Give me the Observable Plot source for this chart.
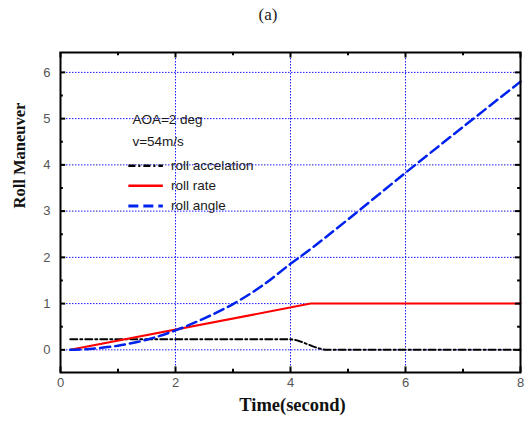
<!DOCTYPE html>
<html>
<head>
<meta charset="utf-8">
<script src="https://cdn.jsdelivr.net/npm/d3@7"></script>
<script src="https://cdn.jsdelivr.net/npm/@observablehq/plot@0.6"></script>
<style>
  body { margin: 0; background: #fff; width: 525px; height: 426px; overflow: hidden; }
  #title { position: relative; height: 30px; font-family: "Liberation Serif", "DejaVu Serif", serif; font-size: 17px; color: #222; }
  #title span { position: absolute; left: 268px; top: 5px; transform: translateX(-50%); }
</style>
</head>
<body>
<div id="title"><span>(a)</span></div>
<div id="chart"></div>
<script>
// Data
const accelTime  = [0.17, 4.0, 4.1, 4.2, 4.3, 4.4, 4.5, 4.6, 8];
const accelValue = [0.23, 0.23, 0.21, 0.17, 0.12, 0.07, 0.03, 0.0, 0.0];

const rateTime  = [0.17, 4.35, 8];
const rateValue = [0.0, 1.0, 1.0];

const angleTime  = [0.17, 0.5, 1, 1.5, 2, 2.5, 3, 3.5, 4, 4.35, 5, 6, 7, 8];
const angleValue = [0.0, 0.02, 0.09, 0.22, 0.42, 0.68, 0.99, 1.38, 1.86, 2.18, 2.82, 3.83, 4.82, 5.8];

const xTicks = [0, 2, 4, 6, 8];
const xMinor = [1, 3, 5, 7];
const yTicks = [0, 1, 2, 3, 4, 5, 6];
const yMinor = [0.5, 1.5, 2.5, 3.5, 4.5, 5.5];
const xGrid = [2, 4, 6];
const yGrid = [0, 1, 2, 3, 4, 5, 6];

const seriesNames = ["roll accelation", "roll rate", "roll angle"];
const annotations = ["AOA=2 deg", "v=54m/s"];

const toRows = (t, v) => t.map((x, i) => ({x, y: v[i]}));
const accel = toRows(accelTime, accelValue);
const rate = toRows(rateTime, rateValue);
const angle = toRows(angleTime, angleValue);

const xDom = [0, 8], yDom = [-0.49, 6.43];
const colors = ["#000", "#ff0000", "#0022ee"];
const dashes = ["7,3,2,3", null, "10,5"];
const widths = [2, 2, 2.5];
const legendY = [3.98, 3.55, 3.11];
const legendRows = seriesNames.map((name, i) => ({name, y: legendY[i], i}));

const serif = "'Liberation Serif', 'DejaVu Serif', serif";
const sans = "'Liberation Sans', Arial, sans-serif";

const plot = Plot.plot({
  width: 525,
  height: 396,
  marginLeft: 60,
  marginRight: 5,
  marginTop: 22,
  marginBottom: 54,
  style: {fontFamily: sans, background: "#fff"},
  x: {domain: xDom, label: null},
  y: {domain: yDom, label: null},
  marks: [
    // grid
    Plot.ruleY(yGrid, {stroke: "#1a1aff", strokeWidth: 1, strokeDasharray: "1.5,1.5"}),
    Plot.ruleX(xGrid, {stroke: "#1a1aff", strokeWidth: 1, strokeDasharray: "1.5,1.5"}),
    // data
    Plot.line(accel, {x: "x", y: "y", stroke: colors[0], strokeWidth: widths[0], strokeDasharray: dashes[0]}),
    Plot.line(rate, {x: "x", y: "y", stroke: colors[1], strokeWidth: widths[1]}),
    Plot.line(angle, {x: "x", y: "y", stroke: colors[2], strokeWidth: widths[2], strokeDasharray: dashes[2], curve: "catmull-rom"}),
    // annotation text
    Plot.text(annotations, {x: 1.25, y: (d, i) => [4.98, 4.5][i], text: d => d, textAnchor: "start", fontSize: 13.5, fill: "#1a1a1a"}),
    // legend
    ...legendRows.map(r => Plot.link([r], {x1: 1.18, x2: 1.78, y1: "y", y2: "y", stroke: colors[r.i], strokeWidth: widths[r.i] + 0.5, strokeDasharray: dashes[r.i]})),
    Plot.text(legendRows, {x: 1.92, y: "y", text: "name", textAnchor: "start", fontSize: 13.5, fill: "#1a1a1a"}),
    // inward ticks
    Plot.ruleY(yTicks, {x1: 0, x2: 0.09, stroke: "#000", strokeWidth: 2}),
    Plot.ruleY(yMinor, {x1: 0, x2: 0.05, stroke: "#000", strokeWidth: 2}),
    Plot.ruleY(yTicks, {x1: 7.91, x2: 8, stroke: "#000", strokeWidth: 2}),
    Plot.ruleY(yMinor, {x1: 7.95, x2: 8, stroke: "#000", strokeWidth: 2}),
    Plot.ruleX(xTicks, {y1: -0.49, y2: -0.37, stroke: "#000", strokeWidth: 2}),
    Plot.ruleX(xMinor, {y1: -0.49, y2: -0.42, stroke: "#000", strokeWidth: 2}),
    Plot.ruleX(xTicks, {y1: 6.31, y2: 6.43, stroke: "#000", strokeWidth: 2}),
    Plot.ruleX(xMinor, {y1: 6.36, y2: 6.43, stroke: "#000", strokeWidth: 2}),
    // axes
    Plot.axisX(xTicks, {tickSize: 0, tickPadding: 5, fontSize: 13, fill: "#555", label: null}),
    Plot.axisY(yTicks, {tickSize: 0, tickPadding: 10, fontSize: 13, fill: "#555", label: null}),
    Plot.frame({stroke: "#000", strokeWidth: 2}),
    // axis titles
    Plot.text(["Roll Maneuver"], {frameAnchor: "left", dx: -41, dy: -4, rotate: -90, fontSize: 16.5, fontWeight: "bold", fontFamily: serif, fill: "#111"}),
    Plot.text(["Time(second)"], {frameAnchor: "bottom", dx: 2, dy: 38, fontSize: 18.5, fontWeight: "bold", fontFamily: serif, fill: "#111"})
  ]
});
document.getElementById("chart").appendChild(plot);
</script>
</body>
</html>
